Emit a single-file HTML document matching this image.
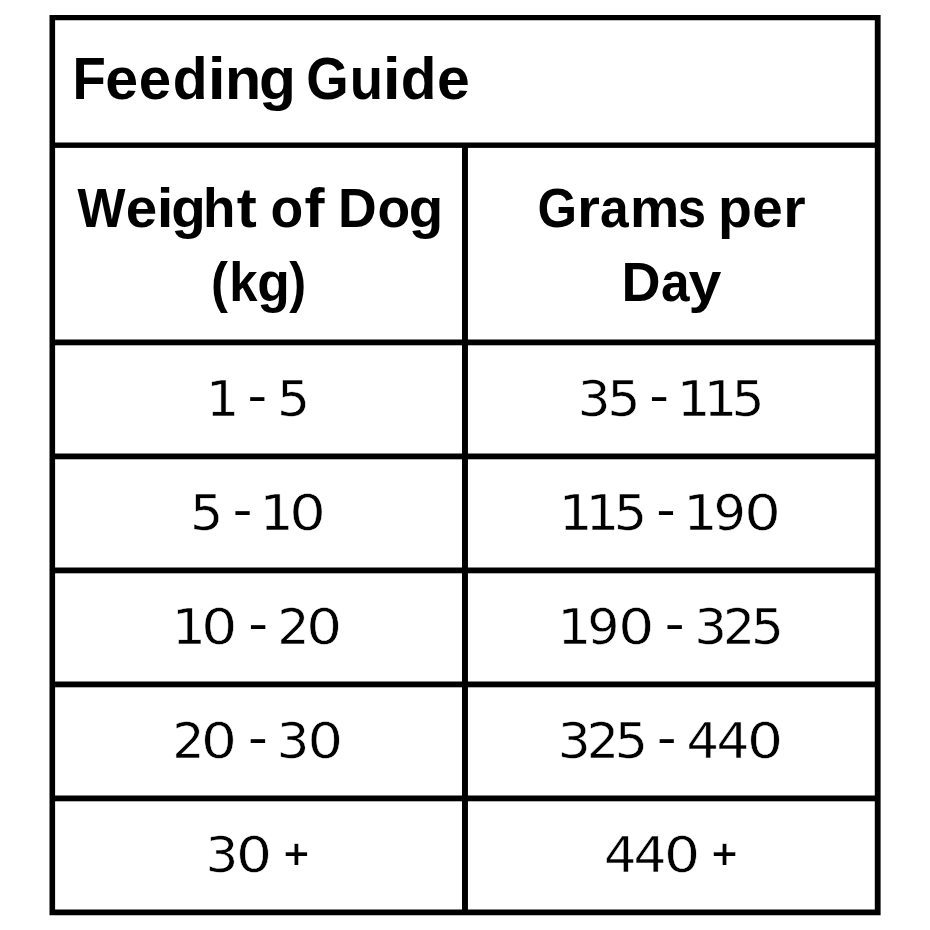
<!DOCTYPE html>
<html lang="en">
<head>
<meta charset="utf-8">
<title>Feeding Guide</title>
<style>
  html, body { margin: 0; padding: 0; background: #fff; }
  body { width: 930px; height: 930px; position: relative; overflow: hidden; color: #000; }
  .grid { position: absolute; left: 0; top: 0; display: block; }
  .tbl, .row, .cell { position: absolute; left: 0; top: 0; }
  .cell span { position: absolute; left: 0; white-space: nowrap; line-height: 1; transform-origin: 0 0; }
  .b { font-family: "Liberation Sans", sans-serif; font-weight: bold; }
  .n { font-family: "DejaVu Sans", "Liberation Sans", sans-serif; font-weight: normal; -webkit-text-stroke: 0.5px #fff; }
  .y { font-family: "DejaVu Sans", "Liberation Sans", sans-serif; font-weight: normal; }
  .p { font-family: "DejaVu Sans", "Liberation Sans", sans-serif; font-weight: bold; will-change: transform; -webkit-text-stroke: 0.2px #fff; }
</style>
</head>
<body>
  <!-- table grid: frame, row rules, column divider -->
  <svg class="grid" width="930" height="930" viewBox="0 0 930 930" aria-hidden="true">
    <g fill="#000">
      <path fill-rule="evenodd" d="M49.5 15H880.6V915.3H49.5Z M55.1 20.3H874.8V909.5H55.1Z"/>
      <rect x="52" y="142.5" width="826" height="5.4"/>
      <rect x="52" y="339.5" width="826" height="5.8"/>
      <rect x="52" y="453.5" width="826" height="5.8"/>
      <rect x="52" y="567.5" width="826" height="5.8"/>
      <rect x="52" y="681.5" width="826" height="5.8"/>
      <rect x="52" y="795.5" width="826" height="5.8"/>
      <rect x="462" y="145" width="5.95" height="767"/>
    </g>
  </svg>

  <div class="tbl" role="table" aria-label="Feeding Guide">
    <div class="row" role="row">
      <div class="cell" role="columnheader" id="title" aria-colspan="2">
        <span class="b" style="top:50.02px; font-size:58.7px; transform:translateX(72.57px) scaleX(0.9300);">F</span><span class="b" style="top:50.02px; font-size:58.7px; transform:translateX(105.27px) scaleX(1.0054);">e</span><span class="b" style="top:50.02px; font-size:58.7px; transform:translateX(138.65px) scaleX(0.9931);">e</span><span class="b" style="top:50.02px; font-size:58.7px; transform:translateX(172.78px) scaleX(0.9713);">d</span><span class="b" style="top:50.02px; font-size:58.7px; transform:translateX(207.75px) scaleX(1.1000);">i</span><span class="b" style="top:50.02px; font-size:58.7px; transform:translateX(224.92px) scaleX(1.0089);">n</span><span class="b" style="top:50.02px; font-size:58.7px; transform:translateX(258.95px) scaleX(1.0306);">g</span>
        <span class="b" style="top:50.02px; font-size:58.7px; transform:translateX(306.25px) scaleX(0.9300);">G</span><span class="b" style="top:50.02px; font-size:58.7px; transform:translateX(349.65px) scaleX(0.9300);">u</span><span class="b" style="top:50.02px; font-size:58.7px; transform:translateX(382.82px) scaleX(1.1000);">i</span><span class="b" style="top:50.02px; font-size:58.7px; transform:translateX(400.70px) scaleX(0.9967);">d</span><span class="b" style="top:50.02px; font-size:58.7px; transform:translateX(437.10px) scaleX(1.0037);">e</span>
      </div>
    </div>
    <div class="row" role="row">
      <div class="cell" role="columnheader" id="h1">
        <span class="b" style="top:180.94px; font-size:54.7px; transform:translateX(77.50px) scaleX(0.9300);">W</span><span class="b" style="top:180.94px; font-size:54.7px; transform:translateX(125.70px) scaleX(1.0344);">e</span><span class="b" style="top:180.94px; font-size:54.7px; transform:translateX(156.82px) scaleX(1.1000);">i</span><span class="b" style="top:180.94px; font-size:54.7px; transform:translateX(171.15px) scaleX(1.0328);">g</span><span class="b" style="top:180.94px; font-size:54.7px; transform:translateX(203.00px) scaleX(0.9697);">h</span><span class="b" style="top:180.94px; font-size:54.7px; transform:translateX(236.68px) scaleX(1.1000);">t</span>
        <span class="b" style="top:180.94px; font-size:54.7px; transform:translateX(270.60px) scaleX(0.9796);">o</span><span class="b" style="top:180.94px; font-size:54.7px; transform:translateX(304.45px) scaleX(1.1000);">f</span>
        <span class="b" style="top:180.94px; font-size:54.7px; transform:translateX(337.93px) scaleX(0.9807);">D</span><span class="b" style="top:180.94px; font-size:54.7px; transform:translateX(377.57px) scaleX(0.9778);">o</span><span class="b" style="top:180.94px; font-size:54.7px; transform:translateX(408.80px) scaleX(1.0328);">g</span>
        <span class="b" style="top:254.97px; font-size:54.7px; transform:translateX(211.10px) scaleX(0.9300);">(</span><span class="b" style="top:254.97px; font-size:54.7px; transform:translateX(229.22px) scaleX(0.9300);">k</span><span class="b" style="top:254.97px; font-size:54.7px; transform:translateX(257.20px) scaleX(0.9746);">g</span><span class="b" style="top:254.97px; font-size:54.7px; transform:translateX(289.15px) scaleX(0.9300);">)</span>
      </div>
      <div class="cell" role="columnheader" id="h2">
        <span class="b" style="top:180.94px; font-size:54.7px; transform:translateX(537.45px) scaleX(0.9300);">G</span><span class="b" style="top:180.94px; font-size:54.7px; transform:translateX(576.92px) scaleX(1.0748);">r</span><span class="b" style="top:180.94px; font-size:54.7px; transform:translateX(599.90px) scaleX(0.9421);">a</span><span class="b" style="top:180.94px; font-size:54.7px; transform:translateX(629.98px) scaleX(1.0133);">m</span><span class="b" style="top:180.94px; font-size:54.7px; transform:translateX(677.85px) scaleX(0.9300);">s</span>
        <span class="b" style="top:180.94px; font-size:54.7px; transform:translateX(717.95px) scaleX(1.0146);">p</span><span class="b" style="top:180.94px; font-size:54.7px; transform:translateX(752.27px) scaleX(1.0019);">e</span><span class="b" style="top:180.94px; font-size:54.7px; transform:translateX(783.30px) scaleX(1.0541);">r</span>
        <span class="b" style="top:254.97px; font-size:54.7px; transform:translateX(621.50px) scaleX(0.9881);">D</span><span class="b" style="top:254.97px; font-size:54.7px; transform:translateX(661.00px) scaleX(0.9386);">a</span><span class="b" style="top:254.97px; font-size:54.7px; transform:translateX(688.45px) scaleX(1.0814);">y</span>
      </div>
    </div>
    <div class="row" role="row">
      <div class="cell" role="cell" id="r1a">
        <span class="n" style="top:375.05px; font-size:49.1px; transform:translateX(206.00px) scaleX(1.0663);">1</span> <span class="y" style="top:370.95px; font-size:48.5px; transform:translateX(247.50px) scaleX(1.1178);">-</span> <span class="n" style="top:375.05px; font-size:49.1px; transform:translateX(277.00px) scaleX(1.0590);">5</span>
      </div>
      <div class="cell" role="cell" id="r1b">
        <span class="n" style="top:375.05px; font-size:49.1px; transform:translateX(577.75px) scaleX(1.0507);">3</span><span class="n" style="top:375.05px; font-size:49.1px; transform:translateX(607.25px) scaleX(1.0651);">5</span> <span class="y" style="top:370.95px; font-size:48.5px; transform:translateX(649.25px) scaleX(1.1221);">-</span> <span class="n" style="top:375.05px; font-size:49.1px; transform:translateX(676.75px) scaleX(1.0800);">1</span><span class="n" style="top:375.05px; font-size:49.1px; transform:translateX(703.50px) scaleX(1.0800);">1</span><span class="n" style="top:375.05px; font-size:49.1px; transform:translateX(731.50px) scaleX(1.0590);">5</span>
      </div>
    </div>
    <div class="row" role="row">
      <div class="cell" role="cell" id="r2a">
        <span class="n" style="top:489.05px; font-size:49.1px; transform:translateX(190.00px) scaleX(1.0652);">5</span> <span class="y" style="top:484.95px; font-size:48.5px; transform:translateX(232.75px) scaleX(1.1208);">-</span> <span class="n" style="top:489.05px; font-size:49.1px; transform:translateX(259.50px) scaleX(1.0948);">1</span><span class="n" style="top:489.05px; font-size:49.1px; transform:translateX(289.25px) scaleX(1.1732);">0</span>
      </div>
      <div class="cell" role="cell" id="r2b">
        <span class="n" style="top:489.05px; font-size:49.1px; transform:translateX(558.75px) scaleX(1.0820);">1</span><span class="n" style="top:489.05px; font-size:49.1px; transform:translateX(585.50px) scaleX(1.0792);">1</span><span class="n" style="top:489.05px; font-size:49.1px; transform:translateX(613.75px) scaleX(1.0716);">5</span> <span class="y" style="top:484.95px; font-size:48.5px; transform:translateX(656.25px) scaleX(1.1123);">-</span> <span class="n" style="top:489.05px; font-size:49.1px; transform:translateX(683.25px) scaleX(1.0984);">1</span><span class="n" style="top:489.05px; font-size:49.1px; transform:translateX(713.50px) scaleX(1.0393);">9</span><span class="n" style="top:489.05px; font-size:49.1px; transform:translateX(744.25px) scaleX(1.1732);">0</span>
      </div>
    </div>
    <div class="row" role="row">
      <div class="cell" role="cell" id="r3a">
        <span class="n" style="top:603.05px; font-size:49.1px; transform:translateX(171.75px) scaleX(1.0947);">1</span><span class="n" style="top:603.05px; font-size:49.1px; transform:translateX(201.25px) scaleX(1.1552);">0</span> <span class="y" style="top:598.95px; font-size:48.5px; transform:translateX(248.25px) scaleX(1.1300);">-</span> <span class="n" style="top:603.05px; font-size:49.1px; transform:translateX(277.25px) scaleX(1.0308);">2</span><span class="n" style="top:603.05px; font-size:49.1px; transform:translateX(306.25px) scaleX(1.1494);">0</span>
      </div>
      <div class="cell" role="cell" id="r3b">
        <span class="n" style="top:603.05px; font-size:49.1px; transform:translateX(557.25px) scaleX(1.0892);">1</span><span class="n" style="top:603.05px; font-size:49.1px; transform:translateX(587.25px) scaleX(1.0318);">9</span><span class="n" style="top:603.05px; font-size:49.1px; transform:translateX(618.25px) scaleX(1.1543);">0</span> <span class="y" style="top:598.95px; font-size:48.5px; transform:translateX(664.75px) scaleX(1.1329);">-</span> <span class="n" style="top:603.05px; font-size:49.1px; transform:translateX(694.25px) scaleX(1.0486);">3</span><span class="n" style="top:603.05px; font-size:49.1px; transform:translateX(723.00px) scaleX(1.0287);">2</span><span class="n" style="top:603.05px; font-size:49.1px; transform:translateX(751.00px) scaleX(1.0535);">5</span>
      </div>
    </div>
    <div class="row" role="row">
      <div class="cell" role="cell" id="r4a">
        <span class="n" style="top:717.05px; font-size:49.1px; transform:translateX(172.25px) scaleX(1.0346);">2</span><span class="n" style="top:717.05px; font-size:49.1px; transform:translateX(201.00px) scaleX(1.1511);">0</span> <span class="y" style="top:712.95px; font-size:48.5px; transform:translateX(248.00px) scaleX(1.1319);">-</span> <span class="n" style="top:717.05px; font-size:49.1px; transform:translateX(276.75px) scaleX(1.0451);">3</span><span class="n" style="top:717.05px; font-size:49.1px; transform:translateX(307.50px) scaleX(1.1400);">0</span>
      </div>
      <div class="cell" role="cell" id="r4b">
        <span class="n" style="top:717.05px; font-size:49.1px; transform:translateX(557.75px) scaleX(1.0568);">3</span><span class="n" style="top:717.05px; font-size:49.1px; transform:translateX(586.75px) scaleX(1.0348);">2</span><span class="n" style="top:717.05px; font-size:49.1px; transform:translateX(614.75px) scaleX(1.0657);">5</span> <span class="y" style="top:712.95px; font-size:48.5px; transform:translateX(657.00px) scaleX(1.1123);">-</span> <span class="n" style="top:717.05px; font-size:49.1px; transform:translateX(686.50px) scaleX(1.0407);">4</span><span class="n" style="top:717.05px; font-size:49.1px; transform:translateX(716.50px) scaleX(1.0509);">4</span><span class="n" style="top:717.05px; font-size:49.1px; transform:translateX(747.00px) scaleX(1.1566);">0</span>
      </div>
    </div>
    <div class="row" role="row">
      <div class="cell" role="cell" id="r5a">
        <span class="n" style="top:831.05px; font-size:49.1px; transform:translateX(205.50px) scaleX(1.0528);">3</span><span class="n" style="top:831.05px; font-size:49.1px; transform:translateX(236.00px) scaleX(1.1562);">0</span> <span class="p" style="top:836.05px; font-size:34.3px; transform:translateX(282.00px) scaleX(0.9894);">+</span>
      </div>
      <div class="cell" role="cell" id="r5b">
        <span class="n" style="top:831.05px; font-size:49.1px; transform:translateX(604.00px) scaleX(1.0393);">4</span><span class="n" style="top:831.05px; font-size:49.1px; transform:translateX(633.50px) scaleX(1.0568);">4</span><span class="n" style="top:831.05px; font-size:49.1px; transform:translateX(664.00px) scaleX(1.1583);">0</span> <span class="p" style="top:836.05px; font-size:34.3px; transform:translateX(710.00px) scaleX(1.0107);">+</span>
      </div>
    </div>
  </div>
</body>
</html>
